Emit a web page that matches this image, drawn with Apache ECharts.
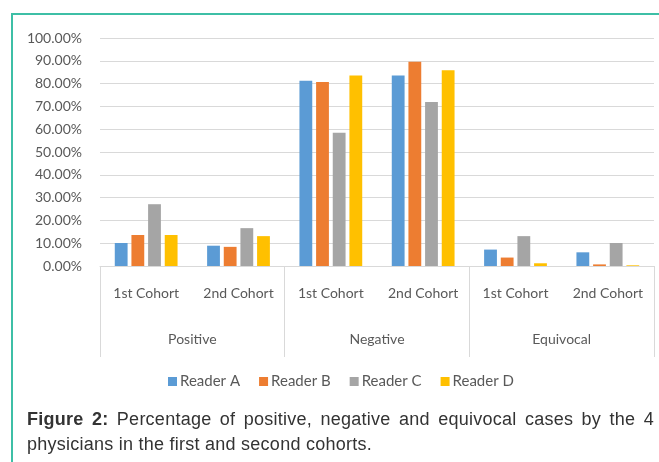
<!DOCTYPE html>
<html>
<head>
<meta charset="utf-8">
<script src="https://cdn.jsdelivr.net/npm/echarts@6/dist/echarts.min.js"></script>
<style>
	html, body { margin: 0; padding: 0; background: #fff; }
	#frame { position: absolute; left: 11px; top: 13px; width: 700px; height: 460px; border-top: 2px solid #3dbfa6; border-left: 2px solid #3dbfa6; }
	#main { position: absolute; left: 0; top: 0; width: 659px; height: 462px; }
	.cap { position: absolute; left: 27px; width: 627px; font-family: "Liberation Sans", Arial, sans-serif; font-size: 18px; line-height: 20px; letter-spacing: 0.25px; color: #333; white-space: nowrap; }
	#cap1 { top: 409px; text-align: justify; text-align-last: justify; white-space: normal; }
	#cap2 { top: 434px; }
</style>
</head>
<body>
<div id="frame"></div>
<div id="main"></div>
<div class="cap" id="cap1"><b>Figure 2:</b> Percentage of positive, negative and equivocal cases by the 4</div>
<div class="cap" id="cap2">physicians in the first and second cohorts.</div>
<script>
// 数据
var cohorts = ['1st Cohort', '2nd Cohort', '1st Cohort', '2nd Cohort', '1st Cohort', '2nd Cohort'];
var groups = ['Positive', 'Negative', 'Equivocal'];
var readers = ['Reader A', 'Reader B', 'Reader C', 'Reader D'];
var colors = ['#5b9bd5', '#ed7d31', '#a5a5a5', '#ffc000'];
var readerA = [10.1, 8.9, 81.2, 83.6, 7.2, 6.0];
var readerB = [13.6, 8.4, 80.7, 89.6, 3.7, 0.7];
var readerC = [27.1, 16.6, 58.4, 71.9, 13.1, 10.1];
var readerD = [13.6, 13.1, 83.6, 85.9, 1.2, 0.3];
var seriesData = [readerA, readerB, readerC, readerD];

var myChart = echarts.init(document.getElementById('main'));
var font = 'Lato';
var option = {
	backgroundColor: 'transparent',
	color: colors,
	legend: {
		left: 168,
		top: 374,
		padding: 0,
		itemWidth: 9,
		itemHeight: 9,
		itemGap: 19,
		icon: 'rect',
		textStyle: { fontFamily: font, fontSize: 15, color: '#595959', padding: [0, 0, 0, -2] },
		data: readers
	},
	grid: { left: 100, right: 5, top: 38, bottom: 196 },
	xAxis: [{
		type: 'category',
		data: cohorts,
		axisLine: { lineStyle: { color: '#d9d9d9', width: 1 } },
		axisTick: { show: false },
		axisLabel: { margin: 20, fontFamily: font, fontSize: 14, color: '#595959', interval: 0 }
	}, {
		type: 'category',
		data: groups,
		position: 'bottom',
		axisLine: { show: false },
		axisTick: { show: true, length: 91, lineStyle: { color: '#d9d9d9' } },
		axisLabel: { margin: 66, fontFamily: font, fontSize: 14, color: '#595959' }
	}],
	yAxis: {
		type: 'value',
		min: 0,
		max: 100,
		interval: 10,
		axisLine: { show: false },
		axisTick: { show: false },
		splitLine: { lineStyle: { color: '#d9d9d9', width: 1 } },
		axisLabel: {
			margin: 18,
			fontFamily: font,
			fontSize: 14,
			color: '#595959',
			formatter: function(v) { return v.toFixed(2) + '%'; }
		}
	},
	series: []
};
seriesData.forEach(function(element, index) {
	option.series.push({
		name: readers[index],
		type: 'bar',
		xAxisIndex: 0,
		data: element,
		barGap: '30%',
		barCategoryGap: '32%'
	});
});
myChart.setOption(option);
</script>
</body>
</html>
